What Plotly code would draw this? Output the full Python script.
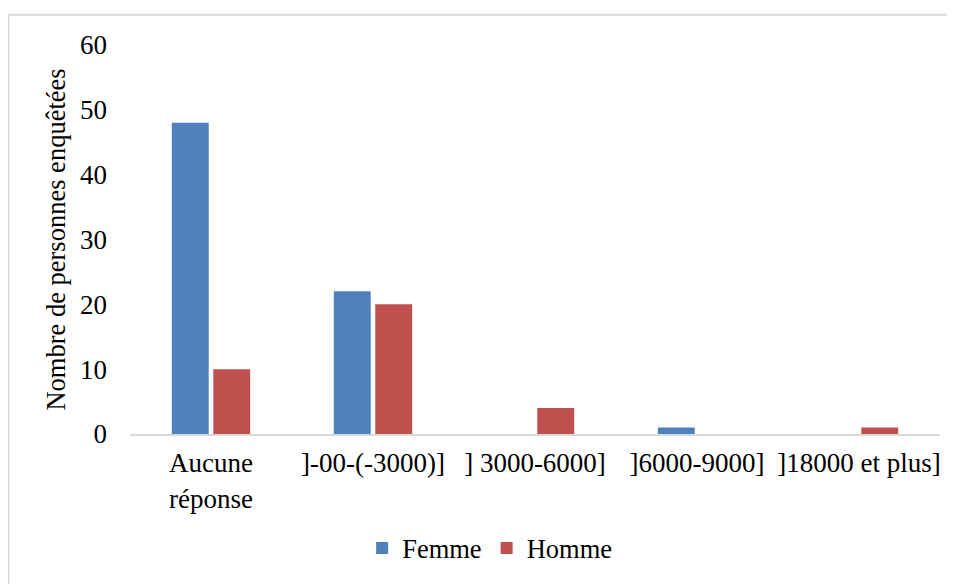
import plotly.graph_objects as go

# tranches de revenu
categories = ["Aucune<br>réponse", "]-00-(-3000)]", "] 3000-6000]", "]6000-9000]", "]18000 et plus]"]
femme = [48, 22, 0, 1, 0]
homme = [10, 20, 4, 0, 1]
y_ticks = [0, 10, 20, 30, 40, 50, 60]

police = "Liberation Serif, Times New Roman, serif"

fig = go.Figure()
fig.add_trace(go.Bar(x=categories, y=femme, name="Femme", marker=dict(color="#4F81BD", line=dict(width=0))))
fig.add_trace(go.Bar(x=categories, y=homme, name="Homme", marker=dict(color="#C0504D", line=dict(width=0))))

# bordure du graphique : seulement en haut et a gauche (le reste est coupe)
bord = dict(color="#D9D9D9", width=2)

fig.update_layout(
    # la page ajoute 8 px de marge au corps, on reduit la figure d'autant
    width=947, height=576,
    margin=dict(l=122, r=15, t=37, b=148),
    paper_bgcolor="white", plot_bgcolor="white",
    font=dict(family=police, size=27, color="black"),
    barmode="group", bargap=0.488, bargroupgap=0.11,
    showlegend=True,
    legend=dict(orientation="h", x=0.444, xanchor="center", y=-0.294, yanchor="middle",
                font=dict(size=26.5), itemwidth=30, tracegroupgap=0),
    xaxis=dict(showline=True, linecolor="#D9D9D9", linewidth=2, ticks="",
               ticklabelstandoff=4, tickfont=dict(size=27), automargin=False),
    yaxis=dict(range=[0, 60], tickvals=y_ticks, showgrid=False, zeroline=False, showline=False,
               ticks="", ticklabelstandoff=22, tickfont=dict(size=27), automargin=False,
               title=dict(text="Nombre de personnes enquêtées", font=dict(size=26.5), standoff=6)),
    shapes=[
        dict(type="line", xref="paper", yref="paper", x0=-0.15, x1=1.05, y0=1.078, y1=1.078, line=bord),
        dict(type="line", xref="paper", yref="paper", x0=-0.15, x1=-0.15, y0=1.078, y1=-0.45, line=bord),
    ],
)

fig.write_html("out.html")
